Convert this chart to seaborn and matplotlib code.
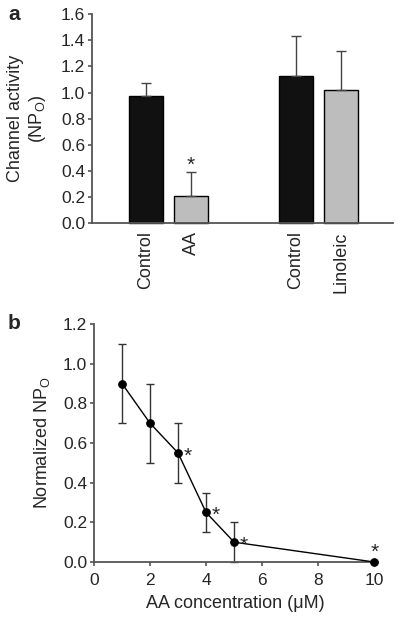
import matplotlib
matplotlib.use("Agg")
import matplotlib.pyplot as plt
import seaborn as sns
import numpy as np

# ---- data ----
bar_labels = ["Control", "AA", "Control", "Linoleic"]
bar_groups = ["Control", "Treatment", "Control", "Treatment"]
bar_values = [0.97, 0.21, 1.13, 1.02]
bar_err = [0.10, 0.18, 0.30, 0.30]
bar_sig = [False, True, False, False]

conc = [1, 2, 3, 4, 5, 10]
npo = [0.90, 0.70, 0.55, 0.25, 0.10, 0.0]
npo_err = [0.20, 0.20, 0.15, 0.10, 0.10, 0.0]
npo_sig = [False, False, True, True, True, True]

# ---- layout ----
bar_pos = [0, 1, 3.33, 4.33]

sns.set_theme(style="ticks")
plt.rcParams['font.family'] = ['Liberation Sans', 'DejaVu Sans']
FS = 12.5
spine_c = '#555555'

fig = plt.figure(figsize=(4.0, 6.18), dpi=100)
axA = fig.add_axes([0.23, 0.639, 0.753, 0.338])
axB = fig.add_axes([0.235, 0.0906, 0.7075, 0.385])

# Panel a
sns.barplot(x=bar_pos, y=bar_values, hue=bar_groups, native_scale=True, dodge=False,
            palette={"Control": "#111111", "Treatment": "#bdbdbd"},
            edgecolor="black", linewidth=1.0, width=0.76, errorbar=None,
            legend=False, ax=axA)
axA.errorbar(bar_pos, bar_values, yerr=[np.zeros(len(bar_err)), bar_err], fmt='none',
             ecolor='#444444', elinewidth=1.0, capsize=3.5, capthick=1.0, zorder=1)
for p, v, e, s in zip(bar_pos, bar_values, bar_err, bar_sig):
    if s:
        axA.annotate("*", (p, v + e), xytext=(0, -2), textcoords='offset points',
                     ha='center', va='bottom', fontsize=15)
axA.set_xlim(-1.2, 5.49)
axA.set_ylim(0, 1.6)
axA.set_yticks(np.arange(0, 1.61, 0.2))
axA.set_yticklabels([f"{t:.1f}" for t in np.arange(0, 1.61, 0.2)], fontsize=FS)
axA.set_xticks(bar_pos)
axA.set_xticklabels(bar_labels, rotation=90, fontsize=13, va='top', ha='center')
axA.tick_params(axis='x', length=0, pad=6)
axA.tick_params(axis='y', length=3, width=1.2, color=spine_c, pad=2)
axA.set_xlabel("")
axA.set_ylabel("Channel activity\n(NP$_\\mathregular{O}$)", fontsize=13, labelpad=9)

# Panel b
sns.lineplot(x=conc, y=npo, marker='o', color='black', markersize=5.5, linewidth=1.0,
             markeredgecolor='black', ax=axB, zorder=3)
axB.errorbar(conc, npo, yerr=npo_err, fmt='none', ecolor='#333333', elinewidth=1.0,
             capsize=3, capthick=1.0, zorder=2)
for c, v, s in zip(conc, npo, npo_sig):
    if s:
        if c == 10:
            axB.annotate("*", (c, v), xytext=(0, 0), textcoords='offset points',
                         ha='center', va='bottom', fontsize=15)
        else:
            axB.annotate("*", (c, v), xytext=(7, -9), textcoords='offset points',
                         ha='center', va='bottom', fontsize=15)
axB.set_xlim(0, 10.1)
axB.set_ylim(0, 1.2)
axB.set_xticks([0, 2, 4, 6, 8, 10])
axB.set_xticklabels(["0", "2", "4", "6", "8", "10"], fontsize=FS)
axB.set_yticks(np.arange(0, 1.21, 0.2))
axB.set_yticklabels([f"{t:.1f}" for t in np.arange(0, 1.21, 0.2)], fontsize=FS)
axB.tick_params(axis='x', length=3, width=1.2, color=spine_c, pad=5)
axB.tick_params(axis='y', length=3, width=1.2, color=spine_c, pad=2)
axB.set_xlabel("AA concentration (μM)", fontsize=13, labelpad=5)
axB.set_ylabel("Normalized NP$_\\mathregular{O}$", fontsize=13, labelpad=8)

for ax in (axA, axB):
    sns.despine(ax=ax)
    for sp in ('left', 'bottom'):
        ax.spines[sp].set_color(spine_c)
        ax.spines[sp].set_linewidth(1.3)
    for art in ax.get_children():
        try:
            art.set_clip_on(False)
        except Exception:
            pass

fig.text(0.02, 0.977, "a", fontsize=15, fontweight='bold', va='center')
fig.text(0.02, 0.477, "b", fontsize=15, fontweight='bold', va='center')

fig.savefig("out.png", dpi=100)
